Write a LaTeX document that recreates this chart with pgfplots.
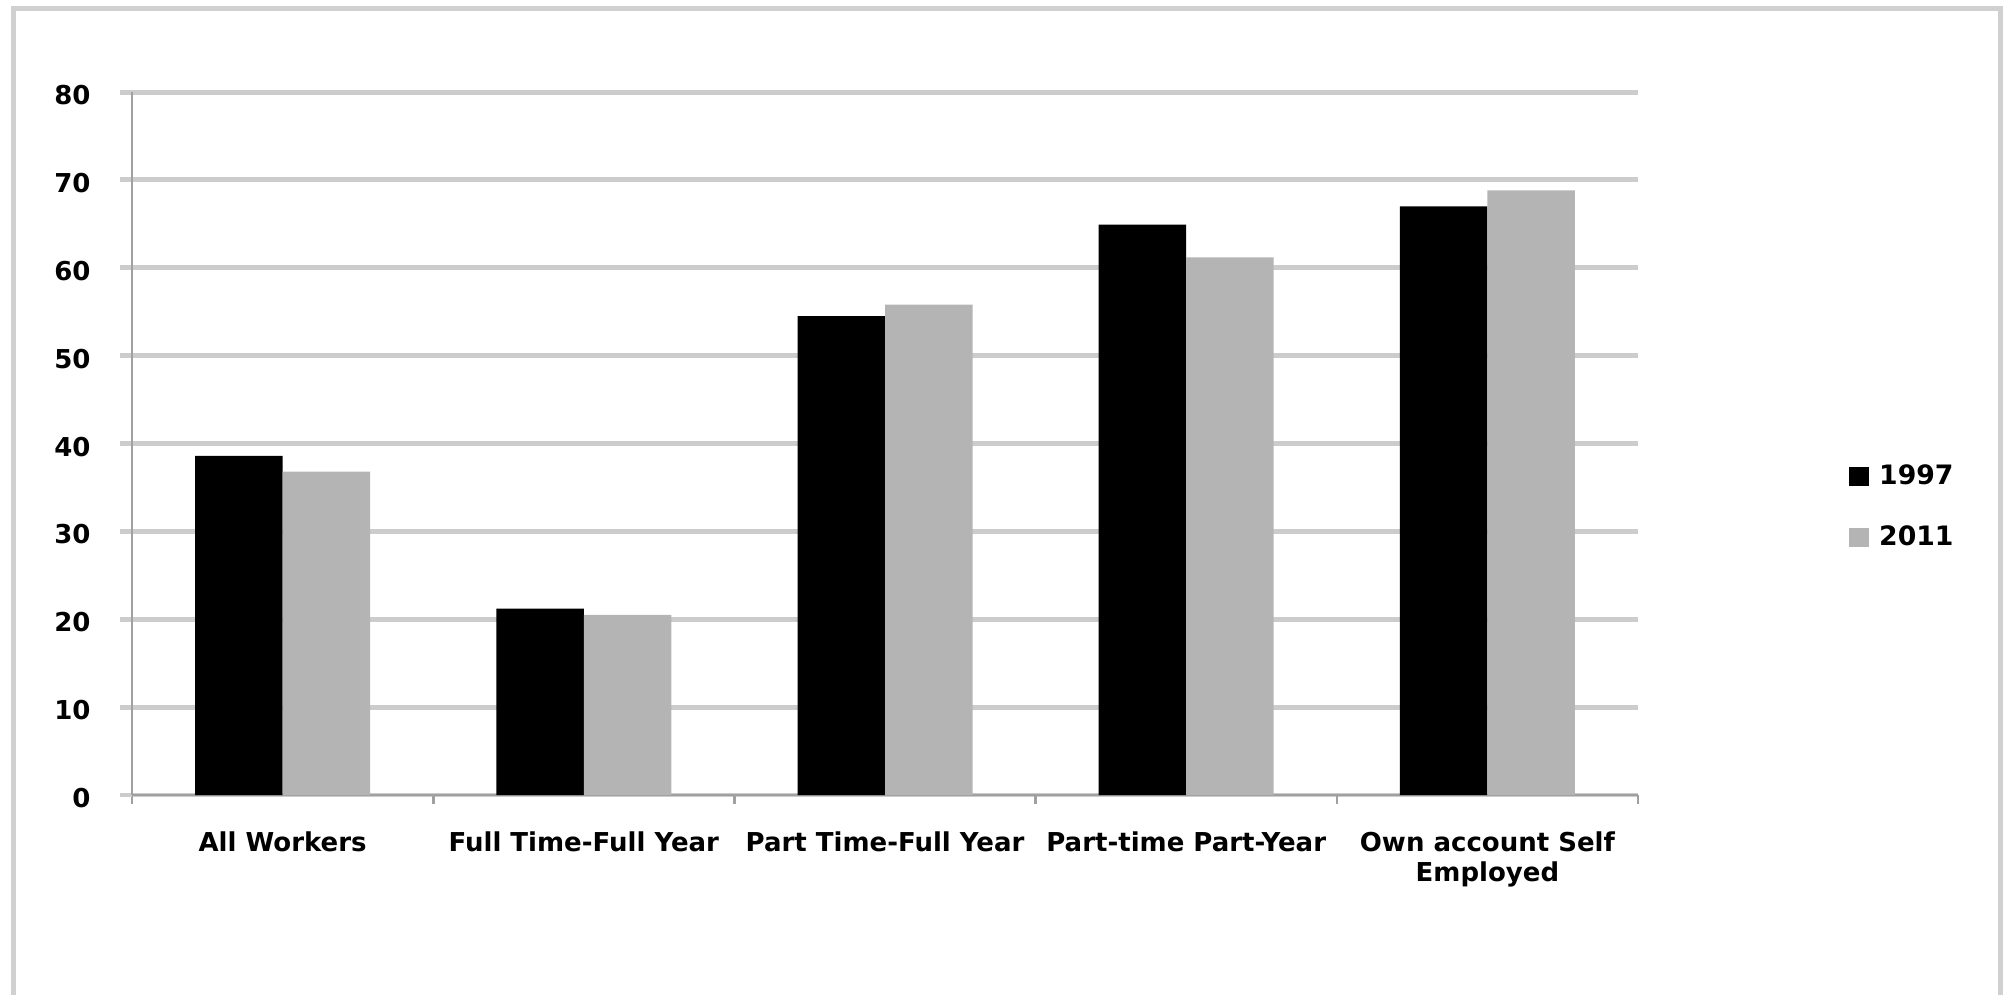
\documentclass[border=0pt]{standalone}
\usepackage{fontspec}
\setmainfont{DejaVu Sans}
\usepackage{pgfplots}
\pgfplotsset{compat=1.18}
\definecolor{gridgray}{RGB}{204,204,204}
\definecolor{axisgray}{RGB}{160,160,160}
\definecolor{bargray}{RGB}{180,180,180}
\definecolor{framegray}{RGB}{208,208,208}

\begin{document}
\begin{tikzpicture}[x=1cm,y=1cm]
\useasboundingbox (0,0) rectangle (20.04,-9.95);
% outer frame (open at the bottom)
\draw[framegray, line width=0.05cm] (0.135,-9.95) -- (0.135,-0.085) -- (20.0,-0.085) -- (20.0,-9.95);

\begin{axis}[
  at={(1.32cm,-7.95cm)}, anchor=south west,
  scale only axis,
  width=15.06cm, height=7.03cm,
  ybar=0pt, bar width=0.875cm,
  ymin=0, ymax=80, ytick={0,10,...,80},
  xmin=-0.5, xmax=4.5,
  xtick={0,1,2,3,4},
  xticklabels={All Workers, Full Time-Full Year, Part Time-Full Year, Part-time Part-Year, {Own account Self\\Employed}},
  minor xtick={-0.5,0.5,...,4.5},
  axis lines*=left,
  axis line style={axisgray, line width=0.75pt, -},
  ymajorgrids,
  grid style={gridgray, line width=1.4pt},
  tick align=outside,
  major tick length=0.12cm,
  minor tick length=0.09cm,
  xtick style={draw=none},
  minor x tick style={draw=axisgray, line width=0.75pt},
  ytick style={draw=gridgray, line width=1.4pt},
  tick label style={font=\fontsize{7.4}{8.6}\selectfont\bfseries},
  /pgf/number format/assume math mode=true,
  yticklabel style={xshift=-0.17cm, yshift=-0.03cm},
  xticklabel style={align=center, yshift=-0.12cm},
  legend style={at={(1.147,0.5)}, anchor=west, xshift=-0.22cm, yshift=-0.64cm, draw=none, fill=none,
    font=\fontsize{7.6}{9}\selectfont\bfseries, row sep=0.29cm,
    nodes={inner sep=1pt, inner xsep=3pt}},
  legend cell align=left,
  legend image code/.code={\fill[#1] (0cm,-0.09cm) rectangle (0.2cm,0.1cm);},
]
\addplot[fill=black, draw=none] coordinates {(0,38.6) (1,21.2) (2,54.5) (3,64.9) (4,67.0)};
\addplot[fill=bargray, draw=none] coordinates {(0,36.8) (1,20.5) (2,55.8) (3,61.2) (4,68.8)};
\legend{1997, 2011}
\end{axis}
\end{tikzpicture}
\end{document}
